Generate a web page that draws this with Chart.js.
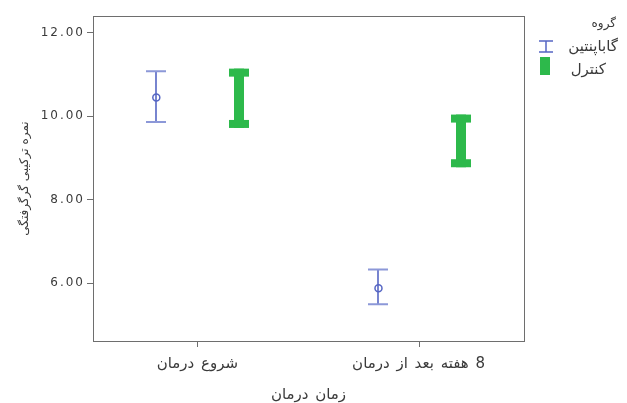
<!DOCTYPE html>
<html>
<head>
<meta charset="utf-8">
<script src="https://cdn.jsdelivr.net/npm/chart.js@4"></script>
<style>
  html, body { margin: 0; padding: 0; background: #fff; }
  #wrap { width: 627px; height: 403px; position: relative; }
</style>
</head>
<body>
<div id="wrap"><canvas id="c" width="627" height="403"></canvas></div>
<script>
// Time points and groups
const categories = ['شروع درمان', '8 هفته بعد از درمان'];
const groupNames = ['گاباپنتین', 'کنترل'];
const legendTitle = 'گروه';
const xTitle = 'زمان درمان';
const yTitle = 'نمره ترکیبی گرگرفتگی';

// Mean and 95% interval of the composite hot-flash score
const gabapentinMean = [10.45, 5.88];
const gabapentinLow  = [9.86, 5.50];
const gabapentinHigh = [11.08, 6.33];
const controlMean = [10.43, 9.41];
const controlLow  = [9.72, 8.78];
const controlHigh = [11.14, 10.04];

const yTicks = [6, 8, 10, 12];

const BLUE = '#5666c4';
const GREEN = '#2db94b';
const AXIS = '#6e6e6e';
const TEXT = '#3a3a3a';
const FONT = '"DejaVu Sans", "Liberation Sans", sans-serif';
const SPACING = '2px';
const groupOffset = [-0.185, 0.185];

const RLM = '\u200F';

// wide-set lettering for the axis text
const spacingPlugin = {
  id: 'spacing',
  beforeUpdate(chart) { chart.ctx.letterSpacing = SPACING; },
  beforeLayout(chart) { chart.ctx.letterSpacing = SPACING; },
  beforeDraw(chart) { chart.ctx.letterSpacing = SPACING; }
};

const errorBarPlugin = {
  id: 'errorBars',
  beforeDatasetsDraw(chart) {
    const ctx = chart.ctx;
    const xs = chart.scales.x, ys = chart.scales.y;
    chart.data.datasets.forEach((ds) => {
      ds.low.forEach((lo, i) => {
        const x = Math.round(xs.getPixelForValue(i + ds.offset));
        const yl = ys.getPixelForValue(lo);
        const yh = ys.getPixelForValue(ds.high[i]);
        ctx.save();
        if (ds.barStyle === 'thin') {
          ctx.strokeStyle = ds.errColor;
          ctx.lineWidth = 1.6;
          ctx.beginPath();
          ctx.moveTo(x, yh); ctx.lineTo(x, yl);
          ctx.stroke();
          ctx.lineWidth = 2;
          ctx.strokeStyle = ds.capColor;
          ctx.beginPath();
          ctx.moveTo(x - 10, yh); ctx.lineTo(x + 10, yh);
          ctx.moveTo(x - 10, yl); ctx.lineTo(x + 10, yl);
          ctx.stroke();
        } else {
          ctx.fillStyle = ds.errColor;
          ctx.fillRect(x - 5, yh, 10, yl - yh);
          ctx.fillRect(x - 10, yh, 20, 8);
          ctx.fillRect(x - 10, yl - 8, 20, 8);
        }
        ctx.restore();
      });
    });
  }
};

const framePlugin = {
  id: 'frame',
  afterDraw(chart) {
    const { ctx, chartArea: a } = chart;
    ctx.save();
    ctx.strokeStyle = AXIS;
    ctx.lineWidth = 1;
    ctx.strokeRect(Math.round(a.left) + 0.5, Math.round(a.top) + 0.5,
                   Math.round(a.right - a.left), Math.round(a.bottom - a.top));
    // vertical axis title
    ctx.letterSpacing = '0px';
    ctx.font = '12px ' + FONT;
    ctx.fillStyle = TEXT;
    ctx.textAlign = 'center';
    ctx.textBaseline = 'middle';
    ctx.direction = 'rtl';
    ctx.translate(25, (a.top + a.bottom) / 2);
    ctx.rotate(-Math.PI / 2);
    ctx.fillText(yTitle, 0, 0);
    ctx.restore();
  }
};

const legendPlugin = {
  id: 'groupLegend',
  afterDraw(chart) {
    const ctx = chart.ctx;
    ctx.save();
    ctx.fillStyle = TEXT;
    ctx.textBaseline = 'middle';
    ctx.textAlign = 'right';
    ctx.direction = 'rtl';
    ctx.font = '12px ' + FONT;
    ctx.letterSpacing = '0px';
    ctx.fillText(legendTitle, 616, 24);
    ctx.font = '15px ' + FONT;
    // gabapentin symbol
    ctx.strokeStyle = BLUE;
    ctx.lineWidth = 1.5;
    ctx.beginPath();
    ctx.moveTo(546, 41); ctx.lineTo(546, 52);
    ctx.moveTo(539, 41); ctx.lineTo(553, 41);
    ctx.moveTo(539, 52); ctx.lineTo(553, 52);
    ctx.stroke();
    ctx.fillText(groupNames[0], 618, 47);
    // control symbol
    ctx.fillStyle = GREEN;
    ctx.fillRect(540, 57, 10, 18);
    ctx.fillStyle = TEXT;
    ctx.fillText(groupNames[1], 606, 70);
    ctx.restore();
  }
};

new Chart(document.getElementById('c'), {
  type: 'scatter',
  data: {
    datasets: [
      {
        label: groupNames[0],
        data: gabapentinMean.map((m, i) => ({ x: i + groupOffset[0], y: m })),
        low: gabapentinLow, high: gabapentinHigh, offset: groupOffset[0],
        barStyle: 'thin', errColor: BLUE, capColor: '#8c98d8',
        pointStyle: 'circle', pointRadius: 3.5, borderWidth: 1.5,
        borderColor: BLUE, backgroundColor: 'rgba(0,0,0,0)'
      },
      {
        label: groupNames[1],
        data: controlMean.map((m, i) => ({ x: i + groupOffset[1], y: m })),
        low: controlLow, high: controlHigh, offset: groupOffset[1],
        barStyle: 'thick', errColor: GREEN,
        pointRadius: 0, borderColor: GREEN, backgroundColor: GREEN
      }
    ]
  },
  options: {
    responsive: false,
    animation: false,
    layout: { padding: { top: 16, right: 103, left: 0, bottom: 0 } },
    plugins: { legend: { display: false }, tooltip: { enabled: false } },
    scales: {
      x: {
        type: 'linear',
        min: -0.47, max: 1.47,
        afterBuildTicks(scale) { scale.ticks = categories.map((_, i) => ({ value: i })); },
        afterFit(scale) { scale.height = 62; },
        ticks: {
          autoSkip: false, maxRotation: 0,
          color: TEXT, font: { family: FONT, size: 15 }, padding: 8,
          callback: (v) => RLM + categories[v]
        },
        grid: { drawOnChartArea: false, color: AXIS, tickLength: 6 },
        border: { color: AXIS },
        title: {
          display: true, text: RLM + xTitle, color: TEXT,
          font: { family: FONT, size: 15, lineHeight: 1 }, padding: { top: 4, bottom: 0 }
        }
      },
      y: {
        min: 4.62, max: 12.4,
        afterBuildTicks(scale) { scale.ticks = yTicks.map(v => ({ value: v })); },
        afterFit(scale) { scale.width = 93; },
        ticks: {
          color: TEXT, font: { family: FONT, size: 12 }, padding: 2,
          callback: (v) => v.toFixed(2)
        },
        grid: { drawOnChartArea: false, color: AXIS, tickLength: 6 },
        border: { color: AXIS },
        title: { display: false }
      }
    }
  },
  plugins: [spacingPlugin, errorBarPlugin, framePlugin, legendPlugin]
});
</script>
</body>
</html>
